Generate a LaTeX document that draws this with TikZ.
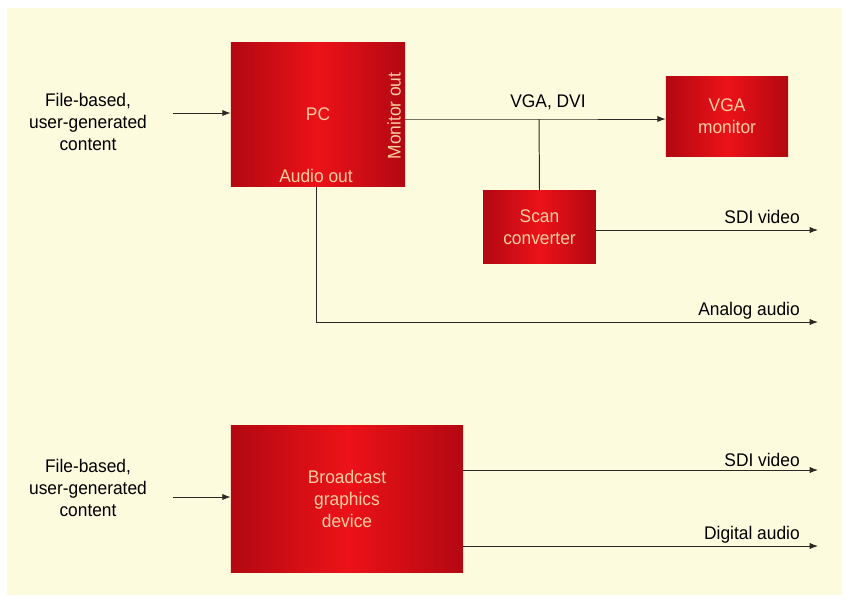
\documentclass[tikz,border=0pt]{standalone}
\usepackage{fontspec}
\setmainfont{Liberation Sans}[FakeStretch=0.95]
\usepackage{xcolor}
\usetikzlibrary{arrows.meta,positioning,calc}

\definecolor{cream}{RGB}{253,251,222}
\definecolor{boxdark}{RGB}{178,8,18}
\definecolor{boxlight}{RGB}{236,18,24}
\definecolor{boxtext}{RGB}{250,206,160}
\definecolor{wire}{RGB}{45,40,35}

\begin{document}
\begin{tikzpicture}[
    x=0.025cm, y=-0.025cm,
    every node/.style={font=\fontsize{13}{15.5}\selectfont},
    redbox/.style={rectangle, inner sep=0pt, left color=boxdark, right color=boxdark,
        middle color=boxlight, text=boxtext, align=center},
    plaintext/.style={text=black, align=center, inner sep=0pt},
    wire/.style={draw=wire, line width=0.7pt},
    arrow/.style={wire, -{Latex[length=6pt,width=4.5pt]}}
]
\useasboundingbox (0,0) rectangle (846,599);
\fill[cream] (7,8) rectangle (842,595);

% upper chain
\node[redbox, minimum width=4.35cm, minimum height=3.62cm] (pc) at (318,114.5) {PC};
\node[plaintext, text=boxtext] (audioout) at (316,176) {Audio out};
\node[plaintext, text=boxtext, rotate=90] (monout) at (394,116) {Monitor out};
\node[redbox, minimum width=3.05cm, minimum height=2.02cm] (vga) at (727,116.5) {VGA\\monitor};
\node[redbox, minimum width=2.82cm, minimum height=1.8cm] (scan) at (539.5,227) {Scan\\converter};

\node[plaintext] (inpc) at (88,122) {File-based,\\user-generated\\content};
\draw[arrow] (173,113) coordinate (inpcend) -- (inpcend -| pc.west);

\coordinate (split) at (539,119);
\draw[arrow] (pc.east |- split) -- (split) -- (vga.west |- split);
\node[plaintext] (vgadvi) at (548,102) {VGA, DVI};
\draw[wire] (split) -- (scan.north);

\coordinate (sdiend) at (818,230);
\draw[arrow] (scan.east |- sdiend) -- (sdiend);
\node[plaintext, anchor=east] (sdilbl) at (800,217) {SDI video};

\coordinate (aaend) at (818,322);
\draw[arrow] (pc.south -| audioout) |- (aaend);
\node[plaintext, anchor=east] (aalbl) at (800,311) {Analog audio};

% lower chain
\node[redbox, minimum width=5.8cm, minimum height=3.65cm] (bgd) at (347,499) {Broadcast\\graphics\\device};
\node[plaintext] (inbgd) at (88,488) {File-based,\\user-generated\\content};
\draw[arrow] (173,497) coordinate (inbgdend) -- (inbgdend -| bgd.west);

\coordinate (sdiend2) at (818,470);
\draw[arrow] (bgd.east |- sdiend2) -- (sdiend2);
\node[plaintext, anchor=east] (sdilbl2) at (800,460) {SDI video};

\coordinate (daend) at (818,546);
\draw[arrow] (bgd.east |- daend) -- (daend);
\node[plaintext, anchor=east] (dalbl) at (800,535) {Digital audio};
\end{tikzpicture}
\end{document}
